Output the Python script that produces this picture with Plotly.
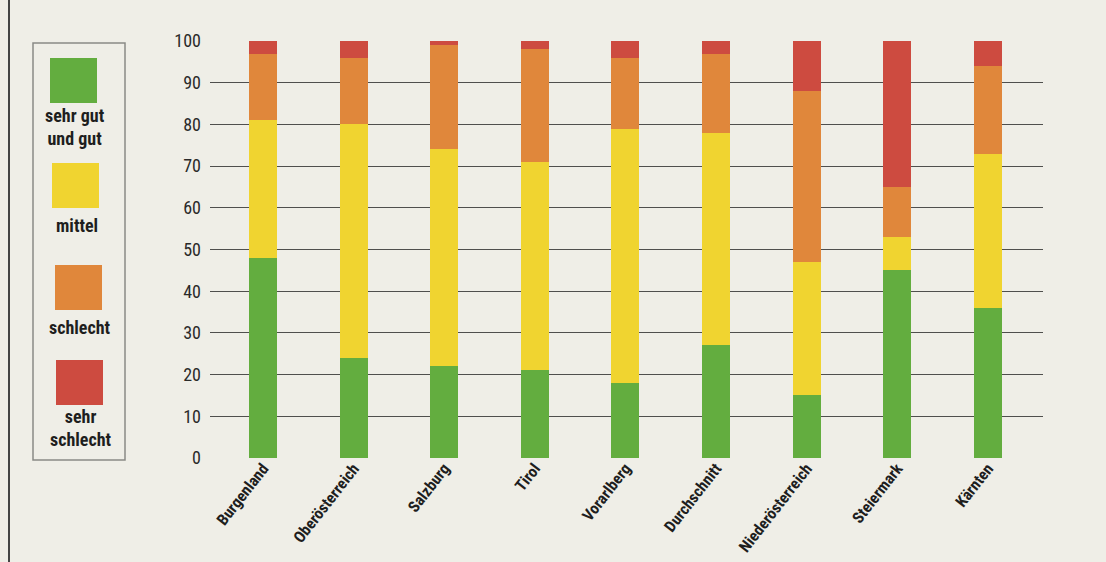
import plotly.graph_objects as go

categories = ["Burgenland", "Oberösterreich", "Salzburg", "Tirol", "Vorarlberg",
              "Durchschnitt", "Niederösterreich", "Steiermark", "Kärnten"]
sehr_gut_und_gut = [48, 24, 22, 21, 18, 27, 15, 45, 36]
mittel = [33, 56, 52, 50, 61, 51, 32, 8, 37]
schlecht = [16, 16, 25, 27, 17, 19, 41, 12, 21]
sehr_schlecht = [3, 4, 1, 2, 4, 3, 12, 35, 6]

series_names = ["sehr gut<br>und gut", "mittel", "schlecht", "sehr<br>schlecht"]
series_values = [sehr_gut_und_gut, mittel, schlecht, sehr_schlecht]
colors = ["#63ad3f", "#f0d430", "#e0873b", "#cd4b40"]
y_ticks = [0, 10, 20, 30, 40, 50, 60, 70, 80, 90, 100]

FONT = "Liberation Sans Narrow, Roboto Condensed, Arial Narrow, sans-serif"
BG = "#efeee7"

fig = go.Figure()
for name, vals, col in zip(series_names, series_values, colors):
    fig.add_trace(go.Bar(x=categories, y=vals, name=name, marker_color=col,
                         marker_line_width=0, showlegend=False))

L, R, T, B = 210, 63, 41, 104
W, H = 1106, 562
pw, ph = W - L - R, H - T - B


def px(x):
    return (x - L) / pw


def py(y):
    return (H - B - y) / ph


shapes = []
annotations = []
# legend frame
shapes.append(dict(type="rect", xref="paper", yref="paper",
                   x0=px(33), x1=px(125), y0=py(460), y1=py(43),
                   line=dict(color="#8a8a86", width=1.5), fillcolor="rgba(0,0,0,0)"))
# page border line at far left
shapes.append(dict(type="line", xref="paper", yref="paper",
                   x0=px(9), x1=px(9), y0=py(562), y1=py(0),
                   line=dict(color="#444", width=2)))
legend_sq = [(50, 58), (52, 163), (55, 265), (56, 360)]
legend_text_y = [127, 225, 327, 428]
for (x0, y0), col, name, ty in zip(legend_sq, colors, series_names, legend_text_y):
    shapes.append(dict(type="rect", xref="paper", yref="paper",
                       x0=px(x0), x1=px(x0 + 47), y0=py(y0 + 45), y1=py(y0),
                       line=dict(width=0), fillcolor=col))
    annotations.append(dict(xref="paper", yref="paper", x=px(x0 + 25), y=py(ty),
                            text=name, showarrow=False, xanchor="center", yanchor="middle",
                            font=dict(family=FONT, size=18, color="#1e1e1e", weight="bold"),
                            align="center"))

fig.update_layout(
    width=W, height=H,
    margin=dict(l=L, r=R, t=T, b=B, autoexpand=False),
    barmode="stack", bargap=0.69,
    paper_bgcolor=BG, plot_bgcolor=BG,
    font=dict(family=FONT, color="#222"),
    shapes=shapes, annotations=annotations,
    xaxis=dict(range=[-0.585, 8.61], tickangle=-52, showgrid=False, automargin=False,
               tickfont=dict(family=FONT, size=16, color="#1e1e1e", weight="bold"),
               ticks="", showline=False, zeroline=False, ticklabelstandoff=-3),
    yaxis=dict(range=[0, 100], tickvals=y_ticks, showgrid=True, gridcolor="#4f4f4d",
               gridwidth=1.3, zeroline=False, showline=False, ticks="", automargin=False,
               tickfont=dict(family=FONT, size=18, color="#2a2a2a"), ticklabelstandoff=8),
)

fig.write_html("out.html")
